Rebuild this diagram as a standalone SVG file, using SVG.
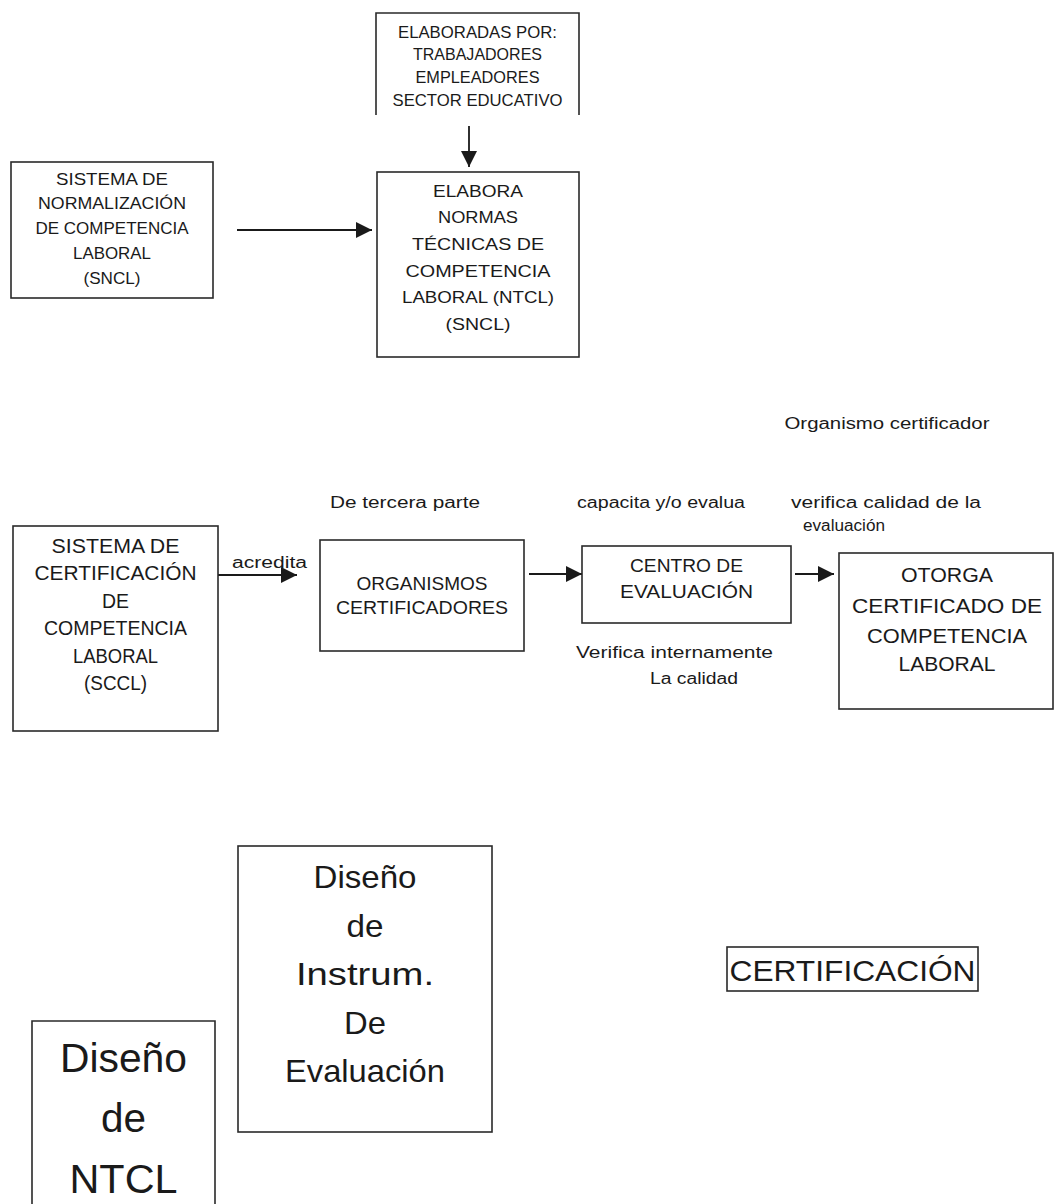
<svg xmlns="http://www.w3.org/2000/svg" width="1055" height="1204" viewBox="0 0 1055 1204">
<style>
text{font-family:"Liberation Sans","DejaVu Sans",sans-serif;fill:#1a1a1a;text-anchor:middle}
.box{fill:none;stroke:#2a2a2a;stroke-width:1.6}
.c{stroke:#1a1a1a;stroke-width:1.8;fill:none}
.s17{font-size:17px}.s18{font-size:18px}.s20{font-size:20px}.s21{font-size:21px}.s16{font-size:16px}
.s32{font-size:32px}.s40{font-size:40px}.s29{font-size:29px}
</style>
<defs>
<marker id="ah" viewBox="0 0 10 10" refX="10" refY="5" markerWidth="16" markerHeight="16" markerUnits="userSpaceOnUse" orient="auto">
<path d="M0,0 L10,5 L0,10 Z" fill="#1a1a1a"/>
</marker>
</defs>
<rect width="1055" height="1204" fill="#fff"/>

<g id="connectors">
<path class="c" d="M469,126 V167" marker-end="url(#ah)"/>
<path class="c" d="M237,230 H372" marker-end="url(#ah)"/>
<path class="c" d="M218,575 H297" marker-end="url(#ah)"/>
<path class="c" d="M529,574 H582" marker-end="url(#ah)"/>
<path class="c" d="M795,574 H834" marker-end="url(#ah)"/>
</g>

<g id="elaboradas">
<path class="box" d="M376,115 V13 H579 V115"/>
<text class="s17" x="477.5" y="38" textLength="159" lengthAdjust="spacingAndGlyphs">ELABORADAS POR:</text>
<text class="s17" x="477.5" y="60" textLength="129" lengthAdjust="spacingAndGlyphs">TRABAJADORES</text>
<text class="s17" x="477.5" y="83" textLength="124" lengthAdjust="spacingAndGlyphs">EMPLEADORES</text>
<text class="s17" x="477.5" y="106" textLength="170" lengthAdjust="spacingAndGlyphs">SECTOR EDUCATIVO</text>
</g>

<g id="sncl">
<rect class="box" x="11" y="162" width="202" height="136"/>
<text class="s17" x="112" y="184.5" textLength="112" lengthAdjust="spacingAndGlyphs">SISTEMA DE</text>
<text class="s17" x="112" y="208.5" textLength="148" lengthAdjust="spacingAndGlyphs">NORMALIZACIÓN</text>
<text class="s17" x="112" y="233.5" textLength="153" lengthAdjust="spacingAndGlyphs">DE COMPETENCIA</text>
<text class="s17" x="112" y="258.5" textLength="78" lengthAdjust="spacingAndGlyphs">LABORAL</text>
<text class="s17" x="112" y="283.5" textLength="57" lengthAdjust="spacingAndGlyphs">(SNCL)</text>
</g>

<g id="elabora">
<rect class="box" x="377" y="172" width="202" height="185"/>
<text class="s17" x="478" y="196.5" textLength="90" lengthAdjust="spacingAndGlyphs">ELABORA</text>
<text class="s17" x="478" y="223" textLength="80" lengthAdjust="spacingAndGlyphs">NORMAS</text>
<text class="s17" x="478" y="250" textLength="132" lengthAdjust="spacingAndGlyphs">TÉCNICAS DE</text>
<text class="s17" x="478" y="276.5" textLength="145" lengthAdjust="spacingAndGlyphs">COMPETENCIA</text>
<text class="s17" x="478" y="303" textLength="152" lengthAdjust="spacingAndGlyphs">LABORAL (NTCL)</text>
<text class="s17" x="478" y="329.5" textLength="65" lengthAdjust="spacingAndGlyphs">(SNCL)</text>
</g>

<g id="labels">
<text class="s16" x="887" y="429" textLength="205" lengthAdjust="spacingAndGlyphs">Organismo certificador</text>
<text class="s16" x="405" y="508" textLength="150" lengthAdjust="spacingAndGlyphs">De tercera parte</text>
<text class="s16" x="661" y="508" textLength="168" lengthAdjust="spacingAndGlyphs">capacita y/o evalua</text>
<text class="s16" x="886" y="508" textLength="190" lengthAdjust="spacingAndGlyphs">verifica calidad de la</text>
<text class="s16" x="844" y="531" textLength="82" lengthAdjust="spacingAndGlyphs">evaluación</text>
<text class="s16" x="269.5" y="568" textLength="75" lengthAdjust="spacingAndGlyphs">acredita</text>
<text class="s16" x="674.5" y="658" textLength="197" lengthAdjust="spacingAndGlyphs">Verifica internamente</text>
<text class="s16" x="694" y="684" textLength="88" lengthAdjust="spacingAndGlyphs">La calidad</text>
</g>

<g id="sccl">
<rect class="box" x="13" y="526" width="205" height="205"/>
<text class="s20" x="115.5" y="552.5" textLength="128" lengthAdjust="spacingAndGlyphs">SISTEMA DE</text>
<text class="s20" x="115.5" y="580" textLength="162" lengthAdjust="spacingAndGlyphs">CERTIFICACIÓN</text>
<text class="s20" x="115.5" y="608" textLength="27" lengthAdjust="spacingAndGlyphs">DE</text>
<text class="s20" x="115.5" y="635" textLength="143" lengthAdjust="spacingAndGlyphs">COMPETENCIA</text>
<text class="s20" x="115.5" y="663" textLength="85" lengthAdjust="spacingAndGlyphs">LABORAL</text>
<text class="s20" x="115.5" y="690" textLength="63" lengthAdjust="spacingAndGlyphs">(SCCL)</text>
</g>

<g id="organismos">
<rect class="box" x="320" y="540" width="204" height="111"/>
<text class="s18" x="422" y="590" textLength="131" lengthAdjust="spacingAndGlyphs">ORGANISMOS</text>
<text class="s18" x="422" y="614" textLength="172" lengthAdjust="spacingAndGlyphs">CERTIFICADORES</text>
</g>

<g id="centro">
<rect class="box" x="582" y="546" width="209" height="77"/>
<text class="s18" x="686.5" y="571.5" textLength="113" lengthAdjust="spacingAndGlyphs">CENTRO DE</text>
<text class="s18" x="686.5" y="597.5" textLength="133" lengthAdjust="spacingAndGlyphs">EVALUACIÓN</text>
</g>

<g id="otorga">
<rect class="box" x="839" y="553" width="214" height="156"/>
<text class="s21" x="947" y="581.5" textLength="92" lengthAdjust="spacingAndGlyphs">OTORGA</text>
<text class="s21" x="947" y="612.5" textLength="190" lengthAdjust="spacingAndGlyphs">CERTIFICADO DE</text>
<text class="s21" x="947" y="642.5" textLength="160" lengthAdjust="spacingAndGlyphs">COMPETENCIA</text>
<text class="s21" x="947" y="670.5" textLength="97" lengthAdjust="spacingAndGlyphs">LABORAL</text>
</g>

<g id="instrum">
<rect class="box" x="238" y="846" width="254" height="286"/>
<text class="s32" x="365" y="888" textLength="103" lengthAdjust="spacingAndGlyphs">Diseño</text>
<text class="s32" x="365" y="936.5" textLength="37" lengthAdjust="spacingAndGlyphs">de</text>
<text class="s32" x="365" y="985" textLength="138" lengthAdjust="spacingAndGlyphs">Instrum.</text>
<text class="s32" x="365" y="1033.5" textLength="42" lengthAdjust="spacingAndGlyphs">De</text>
<text class="s32" x="365" y="1082" textLength="160" lengthAdjust="spacingAndGlyphs">Evaluación</text>
</g>

<g id="ntcl">
<path class="box" d="M32,1204 V1021 H215 V1204"/>
<text class="s40" x="123.5" y="1072" textLength="127" lengthAdjust="spacingAndGlyphs">Diseño</text>
<text class="s40" x="123.5" y="1132" textLength="45" lengthAdjust="spacingAndGlyphs">de</text>
<text class="s40" x="123.5" y="1193" textLength="108" lengthAdjust="spacingAndGlyphs">NTCL</text>
</g>

<g id="certificacion">
<rect class="box" x="727" y="947" width="251" height="44"/>
<text class="s29" x="852.5" y="981" textLength="246" lengthAdjust="spacingAndGlyphs">CERTIFICACIÓN</text>
</g>
</svg>
